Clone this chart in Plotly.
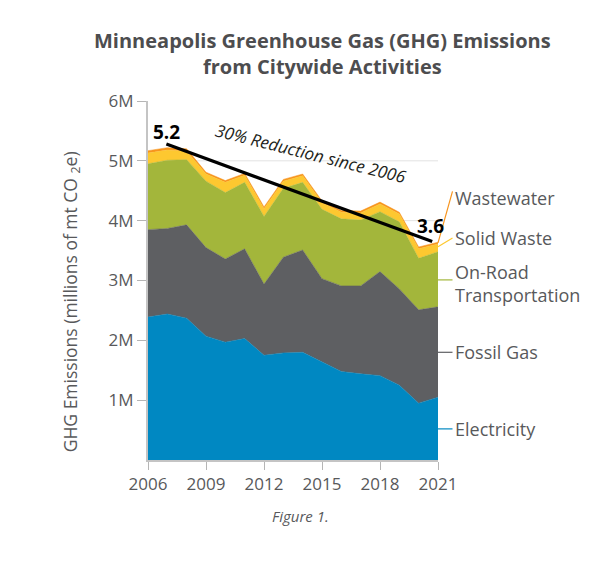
import plotly.graph_objects as go

years = list(range(2006, 2022))
# values in millions of metric tons CO2e (layer increments, bottom to top)
electricity = [2.39, 2.44, 2.37, 2.07, 1.97, 2.03, 1.75, 1.79, 1.80, 1.64, 1.48, 1.44, 1.41, 1.25, 0.95, 1.05]
fossil_gas = [1.46, 1.43, 1.56, 1.48, 1.39, 1.50, 1.19, 1.60, 1.71, 1.39, 1.43, 1.47, 1.74, 1.61, 1.56, 1.51]
on_road = [1.10, 1.14, 1.09, 1.11, 1.11, 1.11, 1.13, 1.15, 1.13, 1.16, 1.12, 1.10, 1.00, 1.12, 0.86, 0.92]
solid_waste = [0.18, 0.17, 0.14, 0.12, 0.17, 0.12, 0.13, 0.12, 0.11, 0.11, 0.11, 0.12, 0.13, 0.13, 0.16, 0.13]
wastewater = [0.04, 0.04, 0.04, 0.03, 0.03, 0.03, 0.03, 0.03, 0.03, 0.03, 0.03, 0.03, 0.03, 0.03, 0.03, 0.03]

series_names = ["Electricity", "Fossil Gas", "On-Road<br>Transportation", "Solid Waste", "Wastewater"]
series_values = [electricity, fossil_gas, on_road, solid_waste, wastewater]
series_colors = ["#0088c2", "#5e5f62", "#a3b63b", "#fdc830", "#f7941d"]

trend_x = [2006.95, 2020.7]
trend_y = [5.28, 3.65]
start_label = "5.2"
end_label = "3.6"

x_tickvals = [2006, 2009, 2012, 2015, 2018, 2021]
y_tickvals = [1, 2, 3, 4, 5, 6]
y_ticktext = ["1M", "2M", "3M", "4M", "5M", "6M"]

FONT = "Open Sans"
GREY = "#58595b"

# plot area geometry in window pixels (page body has an 8px margin)
PL, PT, PW, PH = 148.3, 101.0, 289.4, 359.5
OFF = 8


def px(x):
    return (x - PL) / PW


def py(y):
    return (PT + PH - y) / PH


fig = go.Figure()
for name, vals, col in zip(series_names, series_values, series_colors):
    fig.add_trace(go.Scatter(
        x=years, y=vals, name=name, mode="lines", stackgroup="one",
        line=dict(color=col, width=0.5), fillcolor=col, showlegend=False,
    ))

fig.add_trace(go.Scatter(x=trend_x, y=trend_y, mode="lines",
                         line=dict(color="black", width=3.2), showlegend=False))

# gridlines (below data)
for v in y_tickvals[:-1]:
    fig.add_shape(type="line", xref="paper", yref="y", x0=0, x1=1, y0=v, y1=v,
                  line=dict(color="#e2e2e2", width=1), layer="below")

# cumulative bounds at the last year
last = len(years) - 1
cum = []
s = 0
for vals in series_values:
    lo = s
    s += vals[last]
    cum.append((lo, s))

label_y = [0.52, 1.80, 2.95, 3.71, 4.38]
leader_start = [label_y[0], label_y[1], 3.01, (cum[3][0] + cum[3][1]) / 2 + 0.02, cum[4][1] - 0.01]
leader_end = [label_y[0], label_y[1], 3.01, 3.71, 4.49]
for i, (name, col) in enumerate(zip(series_names, series_colors)):
    fig.add_shape(type="line", xref="paper", yref="y",
                  x0=1.0, x1=1.05, y0=leader_start[i], y1=leader_end[i],
                  line=dict(color=col, width=1.2))
    fig.add_annotation(x=1.0, xref="paper", y=label_y[i], yref="y", text=name,
                       showarrow=False, xanchor="left", yanchor="middle", xshift=15, align="left",
                       font=dict(family=FONT, size=18, color=GREY))

fig.add_annotation(x=trend_x[0], y=5.49, text="<b>%s</b>" % start_label, showarrow=False,
                   xanchor="center", yanchor="middle",
                   font=dict(family=FONT, size=19, color="black"))
fig.add_annotation(x=2020.6, y=3.915, text="<b>%s</b>" % end_label, showarrow=False,
                   xanchor="center", yanchor="middle",
                   font=dict(family=FONT, size=19, color="black"))
fig.add_annotation(x=2014.43, y=5.13, text="<i>30% Reduction since 2006</i>", showarrow=False,
                   xanchor="center", yanchor="middle",
                   textangle=14, font=dict(family=FONT, size=17, color="#231f20"))

# titles
fig.add_annotation(x=px(322), xref="paper", y=py(40), yref="paper",
                   text="<b>Minneapolis Greenhouse Gas (GHG) Emissions</b>", showarrow=False,
                   xanchor="center", yanchor="middle",
                   font=dict(family=FONT, size=20, color="#4d4d4f"))
fig.add_annotation(x=px(322), xref="paper", y=py(66), yref="paper",
                   text="<b>from Citywide Activities</b>", showarrow=False,
                   xanchor="center", yanchor="middle",
                   font=dict(family=FONT, size=20, color="#4d4d4f"))
fig.add_annotation(x=px(72), xref="paper", y=py(302), yref="paper",
                   text="GHG Emissions (millions of mt CO <sub>2</sub>e)", textangle=-90,
                   xanchor="center", yanchor="middle",
                   showarrow=False, font=dict(family=FONT, size=17.5, color=GREY))
fig.add_annotation(x=px(300), xref="paper", y=py(517), yref="paper",
                   text="<i>Figure 1.</i>", showarrow=False,
                   xanchor="center", yanchor="middle",
                   font=dict(family=FONT, size=15, color=GREY))

fig.update_layout(
    width=600, height=574,
    margin=dict(l=PL - OFF, r=600 - (PL - OFF) - PW, t=PT - OFF, b=574 - (PT - OFF) - PH),
    paper_bgcolor="white", plot_bgcolor="rgba(0,0,0,0)",
    showlegend=False,
    xaxis=dict(range=[2006, 2021], tickvals=x_tickvals, ticks="outside", ticklen=8,
               tickcolor="#b5b5b5", showline=True, linecolor="#c4c4c4", linewidth=2,
               showgrid=False, zeroline=False,
               tickfont=dict(family=FONT, size=17, color=GREY)),
    yaxis=dict(range=[0, 6], tickvals=y_tickvals, ticktext=y_ticktext, ticks="outside",
               ticklen=9, tickcolor="#b5b5b5", showline=True, linecolor="#c4c4c4", linewidth=2,
               showgrid=False, zeroline=False,
               tickfont=dict(family=FONT, size=17, color=GREY)),
)

fig.write_html("out.html")
